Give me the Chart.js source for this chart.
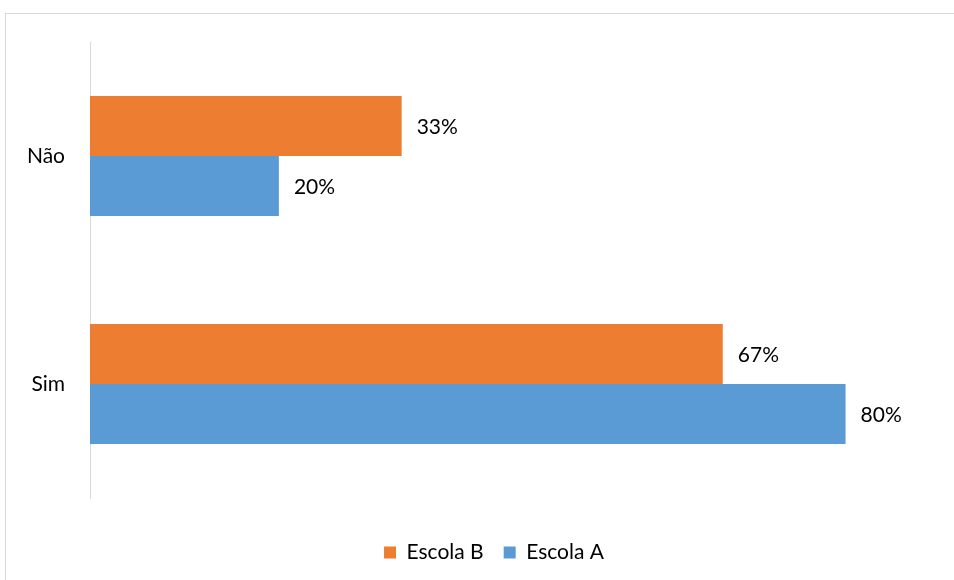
<!DOCTYPE html>
<html>
<head>
<meta charset="utf-8">
<script src="https://cdn.jsdelivr.net/npm/chart.js@4.4.0/dist/chart.umd.min.js"></script>
<style>
  html, body { margin: 0; padding: 0; background: #fff; }
  #wrap { width: 954px; height: 580px; position: relative; }
</style>
</head>
<body>
<div id="wrap"><canvas id="grafico"></canvas></div>
<script>
const categorias = ["Não", "Sim"];
const escolaB = [0.33, 0.67];
const escolaA = [0.20, 0.80];
const nomes = ["Escola B", "Escola A"];
const cores = ["#ed7d31", "#5b9bd5"];

const fonte = "Lato, 'Open Sans', sans-serif";

// moldura cinza e rótulos das barras
const moldura = {
  id: 'moldura',
  beforeDraw(chart) {
    const ctx = chart.ctx;
    ctx.save();
    ctx.fillStyle = '#fff';
    ctx.fillRect(0, 0, chart.width, chart.height);
    ctx.strokeStyle = '#d9d9d9';
    ctx.lineWidth = 1;
    ctx.strokeRect(5.5, 13.5, chart.width + 10, chart.height + 10);
    ctx.restore();
  },
  afterLayout(chart) {
    // legenda um pouco deslocada para a direita, como no original
    const lg = chart.legend;
    lg.left += 24;
    lg.right += 24;
    lg.adjustHitBoxes();
  }
};
const rotulos = {
  id: 'rotulos',
  afterDatasetsDraw(chart) {
    const ctx = chart.ctx;
    ctx.save();
    ctx.font = "21px " + fonte;
    ctx.fillStyle = '#000';
    ctx.textAlign = 'left';
    ctx.textBaseline = 'middle';
    chart.data.datasets.forEach((ds, i) => {
      chart.getDatasetMeta(i).data.forEach((bar, j) => {
        ctx.fillText(Math.round(ds.data[j] * 100) + '%', bar.x + 15, bar.y + 1);
      });
    });
    ctx.restore();
  }
};

new Chart(document.getElementById("grafico"), {
  type: 'bar',
  data: {
    labels: categorias,
    datasets: [{
      label: nomes[0],
      backgroundColor: cores[0],
      data: escolaB
    }, {
      label: nomes[1],
      backgroundColor: cores[1],
      data: escolaA
    }]
  },
  options: {
    indexAxis: 'y',
    responsive: true,
    maintainAspectRatio: false,
    animation: false,
    datasets: {
      bar: { categoryPercentage: 0.526, barPercentage: 1.0 }
    },
    layout: { padding: { left: 0, top: 42, right: 14, bottom: 7 } },
    scales: {
      x: {
        min: 0,
        max: 0.9,
        grid: { display: false, drawTicks: false },
        border: { display: false },
        ticks: { display: false },
        afterFit: s => { s.height = 24; }
      },
      y: {
        grid: { display: false, drawTicks: false },
        border: { display: true, color: '#d9d9d9', width: 1 },
        ticks: { color: '#000', font: { family: fonte, size: 21 }, padding: 25 },
        afterFit: s => { s.width = 90; }
      }
    },
    plugins: {
      legend: {
        position: 'bottom',
        labels: {
          color: '#000',
          font: { family: fonte, size: 21 },
          boxWidth: 12,
          boxHeight: 12,
          padding: 20
        }
      },
      tooltip: { enabled: false }
    }
  },
  plugins: [moldura, rotulos]
});
</script>
</body>
</html>
